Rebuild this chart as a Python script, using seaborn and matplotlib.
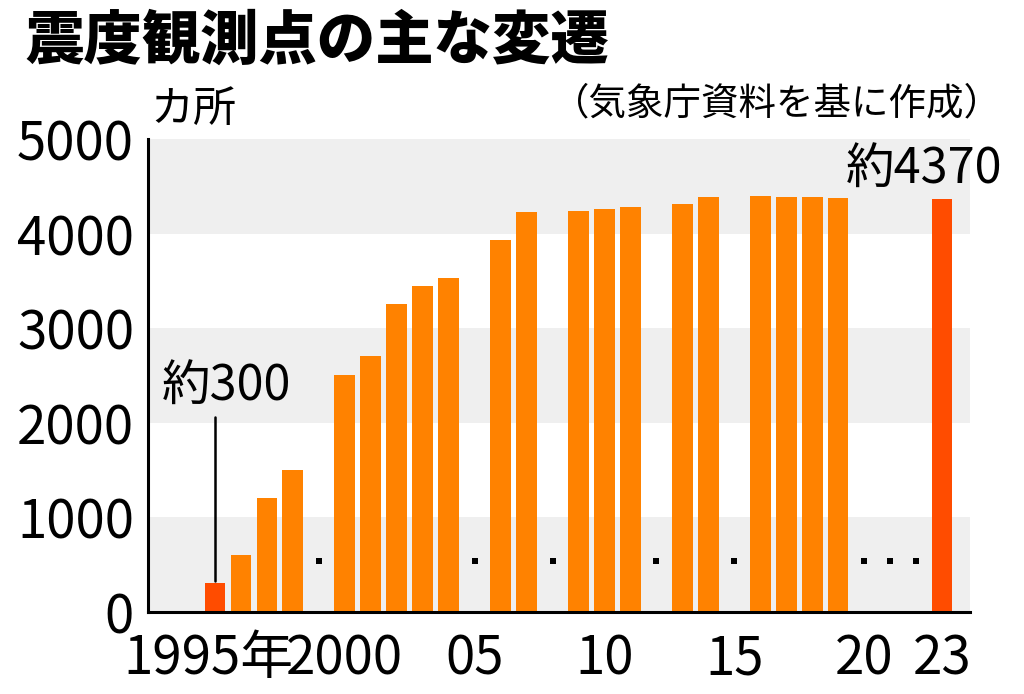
import matplotlib
matplotlib.use('Agg')
import matplotlib.pyplot as plt
import seaborn as sns
import pandas as pd
from matplotlib.transforms import ScaledTranslation

# ---- data ----
years = [1995, 1996, 1997, 1998, 2000, 2001, 2002, 2003, 2004, 2006, 2007,
         2009, 2010, 2011, 2013, 2014, 2016, 2017, 2018, 2019, 2023]
counts = [300, 600, 1200, 1500, 2500, 2700, 3250, 3440, 3530, 3930, 4230,
          4240, 4260, 4280, 4310, 4390, 4400, 4390, 4390, 4380, 4370]
highlight_years = [1995, 2023]
gap_years = [1999, 2005, 2008, 2012, 2015, 2020, 2021, 2022]
tick_years = [1995, 2000, 2005, 2010, 2015, 2020, 2023]
tick_labels = ['1995年', '2000', '05', '10', '15', '20', '23']
y_ticks = [0, 1000, 2000, 3000, 4000, 5000]
y_tick_labels = ['0', '1000', '2000', '3000', '4000', '5000']
band_ranges = [(0, 1000), (2000, 3000), (4000, 5000)]
title = '震度観測点の主な変遷'
unit_label = 'カ所'
source = '（気象庁資料を基に作成）'
first_label = '約300'
last_label = '約4370'

# ---- style ----
ORANGE = '#FF8200'
RED = '#FF4C00'
BAND = '#EFEFEF'
sns.set_style('white')
plt.rcParams['font.family'] = ['Noto Sans CJK JP', 'DejaVu Sans']
plt.rcParams['text.color'] = 'black'
plt.rcParams['xtick.color'] = 'black'
plt.rcParams['ytick.color'] = 'black'
plt.rcParams['axes.labelcolor'] = 'black'

df = pd.DataFrame({'year': years, 'count': counts})
df['kind'] = ['hl' if y in highlight_years else 'normal' for y in years]
gaps = pd.DataFrame({'year': gap_years, 'level': [540] * len(gap_years)})

fig = plt.figure(figsize=(10.24, 6.94), dpi=100)
ax = fig.add_axes([148 / 1024, 1 - 611.7 / 694, (970 - 148) / 1024, (611.7 - 139) / 694])

for lo, hi in band_ranges:
    ax.axhspan(lo, hi, color=BAND, lw=0, zorder=0)

sns.barplot(data=df, x='year', y='count', hue='kind',
            palette={'normal': ORANGE, 'hl': RED}, native_scale=True,
            dodge=False, legend=False, width=0.8, saturation=1,
            linewidth=0, edgecolor='none', ax=ax, zorder=2)
sns.scatterplot(data=gaps, x='year', y='level', marker='s', s=24,
                color='black', linewidth=0, ax=ax, zorder=3)

ax.set_xlim(1992.42, 2024.08)
ax.set_ylim(0, 5000)
ax.set_xlabel('')
ax.set_ylabel('')

for s in ['top', 'right']:
    ax.spines[s].set_visible(False)
for s in ['left', 'bottom']:
    ax.spines[s].set_linewidth(2.2)
    ax.spines[s].set_color('black')

ax.set_xticks(tick_years)
ax.set_xticklabels(tick_labels)
ax.set_xticks([y for y in range(1996, 2023) if y not in tick_years], minor=True)
ax.tick_params(axis='x', which='major', direction='out', length=12, width=1.6,
               labelsize=38, pad=2, color='black', labelcolor='black')
ax.tick_params(axis='x', which='minor', direction='out', length=5, width=1.6,
               color='black')
ax.xaxis.get_major_ticks()[-1].tick1line.set_markersize(5)

ax.set_yticks(y_ticks)
ax.set_yticklabels(y_tick_labels)
ax.tick_params(axis='y', direction='in', length=12, width=1.8, labelsize=38,
               pad=10, color='black', labelcolor='black')

lbl = ax.get_xticklabels()[0]
lbl.set_transform(lbl.get_transform() + ScaledTranslation(-7 / 100, 0, fig.dpi_scale_trans))

ax.text(1995.46, 2230, first_label, ha='center', va='baseline', fontsize=35,
        color='black', zorder=4)
ax.plot([1995, 1995], [2060, counts[0] + 30], color='black', lw=1.8, zorder=4)
ax.text(2022.31, 4530, last_label, ha='center', va='baseline', fontsize=35,
        color='black', zorder=4)

fig.text(25 / 1024, 1 - 12 / 694, title, ha='left', va='top', fontsize=42,
         fontweight='black', color='black')
fig.text(150 / 1024, 1 - 88 / 694, unit_label, ha='left', va='top', fontsize=31,
         color='black')
fig.text(1002 / 1024, 1 - 84 / 694, source, ha='right', va='top', fontsize=27,
         color='black')

fig.savefig('out.png', dpi=100, facecolor='white')
